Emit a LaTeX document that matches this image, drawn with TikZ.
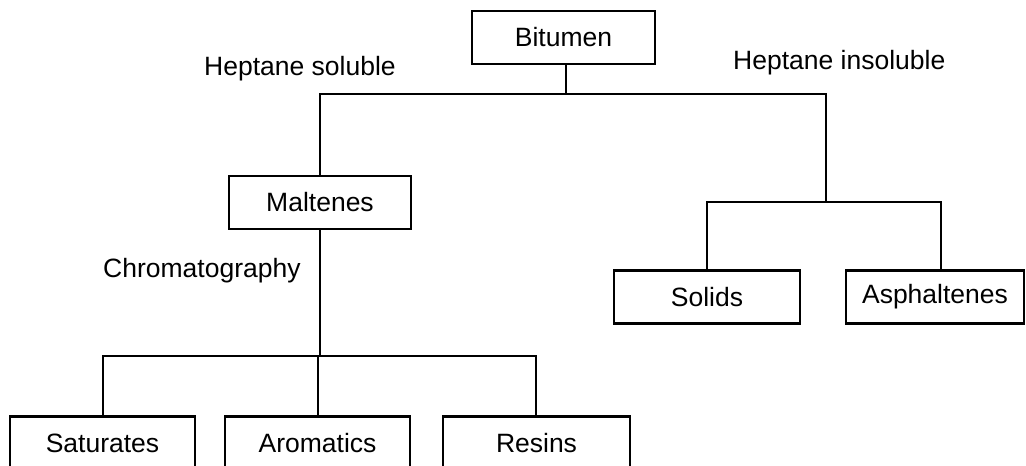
\documentclass[tikz,border=0pt]{standalone}
\usepackage{fontspec}
\setmainfont{Liberation Sans}
\begin{document}
\begin{tikzpicture}[x=1pt,y=-1pt,
  box/.style={draw=black, line width=2.6pt, rectangle, inner sep=0pt, outer sep=0pt,
    font=\fontsize{26.5}{30}\selectfont, minimum height=53pt},
  conn/.style={draw=black, line width=2pt},
  lbl/.style={anchor=base west, inner sep=0pt, font=\fontsize{26.5}{30}\selectfont}]
\useasboundingbox (0,0) rectangle (1026,466);
\fill[white] (0,0) rectangle (1026,466);
\begin{scope}
\clip (0,0) rectangle (1026,466);
% boxes
\node[box, minimum width=183pt] (bit) at (563.5,37.5) {Bitumen};
\node[box, minimum width=182pt] (mal) at (320,202.5) {Maltenes};
\node[box, minimum width=186pt] (sol) at (707,297) {Solids};
\node[box, minimum width=178pt] (asp) at (935,297) {Asphaltenes};
\node[box, minimum width=185pt] (sat) at (102.5,443) {Saturates};
\node[box, minimum width=185pt] (aro) at (317.5,443) {Aromatics};
\node[box, minimum width=187pt] (res) at (536.5,443) {Resins};
% labels
\node[lbl] (hs) at (204,75) {Heptane soluble};
\node[lbl] (hi) at (733,69) {Heptane insoluble};
\node[lbl] (chr) at (103,277) {Chromatography};
% junction coordinates
\coordinate (j1) at (566,94);
\coordinate (rj) at (826,94);
\coordinate (rk) at (826,202);
\coordinate (ax) at (941,202);
\coordinate (j2) at (319,356);
\coordinate (rx) at (536,356);
% connectors
\draw[conn] (bit.south -| j1) -- (j1);
\draw[conn] (mal.north) |- (rj) -- (rk);
\draw[conn] (sol.north) |- (ax) -- (ax |- asp.north);
\draw[conn] (mal.south) -- (mal.south |- j2);
\draw[conn] (sat.north) |- (rx) -- (rx |- res.north);
\draw[conn] (aro.north) -- (aro.north |- j2);
\end{scope}
\end{tikzpicture}
\end{document}
